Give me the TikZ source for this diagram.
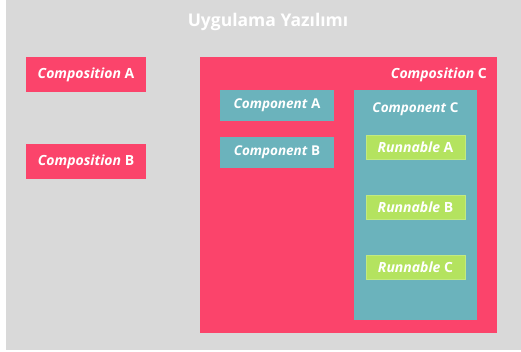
\documentclass[tikz,border=0pt]{standalone}
\usepackage{fontspec}
\setmainfont{Open Sans}
\usetikzlibrary{positioning}
\definecolor{bggrey}{HTML}{D9D9D9}
\definecolor{comppink}{HTML}{FB446B}
\definecolor{compteal}{HTML}{6BB3BC}
\definecolor{runngreen}{HTML}{B4E35F}
\tikzstyle{composition} = [rectangle, fill=comppink, inner sep=0pt, outer sep=0pt, minimum width=120pt, minimum height=35pt, text=white, font=\fontsize{14}{16}\selectfont\bfseries]
\tikzstyle{component} = [rectangle, fill=compteal, inner sep=0pt, outer sep=0pt, minimum width=114pt, minimum height=31pt, text=white, font=\fontsize{13.5}{16}\selectfont\bfseries]
\tikzstyle{runnable} = [rectangle, fill=runngreen, draw=runngreen!80!white, inner sep=0pt, outer sep=0pt, minimum width=99pt, minimum height=24pt, text=white, font=\fontsize{14}{16}\selectfont\bfseries]
\tikzstyle{caption} = [inner sep=0pt, text=white, font=\fontsize{14}{16}\selectfont\bfseries]

\begin{document}
\begin{tikzpicture}[x=1pt, y=-1pt]

            \useasboundingbox (0,0) rectangle (521,352);
            \fill[bggrey] (6,0) rectangle (521,350);
            \node (title) [caption, font=\fontsize{17.5}{20}\selectfont\bfseries] at (268,22) {Uygulama Yazılımı};

            \node (compA) [composition] at (86,74.5) {\textit{Composition} A};
            \node (compB) [composition, below=52pt of compA] {\textit{Composition} B};

            \node (compC) [composition, minimum width=297pt, minimum height=276pt] at (348.5,195) {};
            \node (compClabel) [caption, anchor=east] at (487,75) {\textit{Composition} C};

            \node (cptA) [component] at (277,105.5) {\textit{Component} A};
            \node (cptB) [component, below=16pt of cptA] {\textit{Component} B};

            \node (cptC) [component, minimum width=123pt, minimum height=230pt] at (415.5,205) {};
            \node (cptClabel) [caption, font=\fontsize{13.5}{16}\selectfont\bfseries] at (415.5,109) {\textit{Component} C};

            \node (runA) [runnable] at (415.5,147) {\textit{Runnable} A};
            \node (runB) [runnable, below=36pt of runA] {\textit{Runnable} B};
            \node (runC) [runnable, below=36pt of runB] {\textit{Runnable} C};

        \end{tikzpicture}
\end{document}
